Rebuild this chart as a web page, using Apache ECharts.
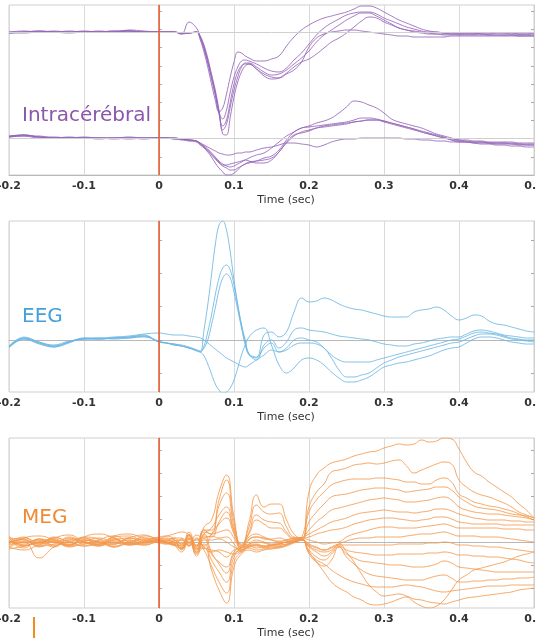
<!DOCTYPE html>
<html><head><meta charset="utf-8">
<script src="https://cdn.jsdelivr.net/npm/echarts@6/dist/echarts.min.js"></script>
<style>html,body{margin:0;padding:0;background:#fff}#c{width:536px;height:638px}</style>
</head><body><div id="c"></div>
<script>
// ---------- time axes (s) ----------
const timeFine = [-0.2,-0.18,-0.16,-0.14,-0.12,-0.1,-0.08,-0.06,-0.04,-0.02,
  0,0.01,0.02,0.03,0.04,0.05,
  0.055,0.06,0.065,0.07,0.075,0.08,0.085,0.09,0.095,0.1,0.105,0.11,0.115,0.12,
  0.13,0.14,0.15,0.16,0.17,0.18,0.19,0.2,
  0.21,0.22,0.23,0.24,0.25,0.26,0.27,0.28,0.29,0.3,
  0.31,0.32,0.33,0.34,0.35,0.36,0.37,0.38,0.39,0.4,
  0.41,0.42,0.43,0.44,0.45,0.46,0.47,0.48,0.49,0.5];
const timeMeg = [-0.2,-0.18,-0.16,-0.14,-0.12,-0.1,-0.08,-0.06,-0.04,-0.02,
  0,0.01,0.02,0.03,0.04,0.05,0.06,0.07,0.08,0.09,
  0.1,0.11,0.12,0.13,0.14,0.15,0.16,0.17,0.18,0.19,
  0.2,0.21,0.22,0.23,0.24,0.25,0.26,0.27,0.28,0.29,
  0.3,0.31,0.32,0.33,0.34,0.35,0.36,0.37,0.38,0.39,
  0.4,0.41,0.42,0.43,0.44,0.45,0.46,0.47,0.48,0.49,0.5];

// ---------- Intracérébral, upper contact (relative amplitude) ----------
const intraUpA = [-1,0,0,1,0,0,1,0,2,1, 0,0,0,-1,-1,0,
  -8,-20,-35,-52,-68,-80,-76,-62,-45,-30,-20,-21,-24,-26,
  -29,-29,-27,-24,-14,-5,2,7, 11,14,16,18,20,23,26,26,24,20,
  16,12,9,6,3,1,0,-1,-1,-1, -1,-1,-2,-2,-1,-1,-1,-2,-2,-1];
const intraUpB = [0,1,0,0,1,0,0,1,1,0, 0,0,0,-2,-1,0,
  -6,-17,-31,-47,-63,-80,-87,-78,-60,-45,-35,-29,-28,-29,
  -32,-36,-39,-40,-36,-28,-21,-12, -3,4,9,13,17,19,20,20,18,14,
  11,8,5,3,1,0,0,-1,-2,-2, -2,-2,-2,-3,-3,-3,-3,-4,-4,-4];
const intraUpC = [-1,0,1,0,0,1,0,0,1,0, 0,0,0,-2,10,4,
  -5,-15,-28,-44,-60,-80,-98,-92,-75,-58,-45,-35,-31,-31,
  -35,-40,-43,-42,-38,-32,-26,-19, -10,-3,2,7,12,16,19,19,16,12,
  8,4,2,1,0,-1,-2,-2,-2,-2, -2,-2,-1,-1,-1,-1,-2,-2,-2,-2];
const intraUpD = [-1,-1,0,0,0,0,0,1,1,0, 0,0,0,-1,-1,0,
  -4,-13,-26,-42,-58,-78,-102,-103,-85,-65,-50,-40,-34,-32,
  -37,-44,-47,-46,-41,-35,-30,-27, -22,-16,-10,-6,-1,5,11,15,14,10,
  7,4,2,0,-1,-2,-2,-3,-3,-3, -3,-3,-3,-3,-3,-3,-3,-3,-3,-3];
const intraUpE = [0,0,1,0,-1,0,0,0,1,0, 0,0,0,-1,-1,0,
  -5,-16,-30,-45,-62,-82,-94,-88,-70,-52,-40,-34,-32,-32,
  -37,-42,-45,-46,-42,-38,-30,-15, -6,-2,0,1,2,2,1,0,-1,-2,
  -3,-4,-4,-5,-5,-5,-5,-5,-4,-4, -4,-4,-4,-4,-4,-4,-4,-4,-4,-4];
// ---------- Intracérébral, lower contact ----------
const intraLowF = [1,3,1,0,0,0,-1,0,0,0, 0,0,-1,-1,-2,-3,
  -5,-7,-9,-11,-13,-15,-16,-17,-17,-16,-15,-15,-14,-14,
  -12,-10,-9,-7,-5,-5,-6,-7, -9,-7,-4,-2,-1,-1,0,0,0,0,
  0,0,-1,-1,-2,-2,-3,-3,-4,-4, -4,-4,-4,-5,-5,-5,-5,-6,-6,-6];
const intraLowG = [2,3,1,0,0,1,0,0,1,0, 0,0,0,-1,-2,-3,
  -5,-8,-11,-15,-19,-23,-26,-28,-29,-28,-26,-24,-22,-20,
  -17,-15,-10,-4,2,6,10,11, 12,13,14,15,16,18,20,20,19,17,
  15,13,11,9,7,5,3,1,-2,-4, -4,-5,-5,-5,-6,-6,-6,-7,-7,-7];
const intraLowH = [1,2,0,0,1,0,0,0,0,-1, 0,0,-1,-2,-3,-4,
  -7,-10,-14,-19,-25,-30,-34,-37,-37,-35,-32,-28,-26,-25,
  -23,-20,-18,-12,-2,6,10,12, 15,17,20,25,31,37,36,33,30,25,
  19,16,14,12,10,7,4,2,0,-2, -3,-4,-4,-5,-5,-5,-6,-6,-7,-7];
const intraLowI = [2,3,1,1,0,0,0,-1,0,0, 0,0,0,-1,-2,-3,
  -6,-9,-12,-16,-20,-24,-27,-27,-26,-25,-24,-23,-22,-23,
  -25,-25,-22,-14,-5,2,6,8, 10,11,12,13,14,16,17,18,18,17,
  15,13,11,9,6,4,2,0,-1,-2, -2,-3,-3,-4,-4,-4,-4,-5,-5,-5];
const intraLowJ = [1,2,2,0,0,0,0,0,-1,0, 0,0,0,-1,-2,-3,
  -6,-9,-13,-17,-21,-25,-28,-30,-32,-32,-30,-28,-26,-24,
  -23,-22,-20,-14,-4,3,5,7, 10,12,13,14,15,16,17,18,18,16,
  14,12,10,8,6,4,2,0,-2,-3, -4,-5,-6,-6,-7,-7,-8,-8,-9,-9];

// ---------- EEG ----------
const eegP = [-7,2,-3,-6,-2,2,1,2,3,5, -2,-3,-4,-5,-7,-10,
  -12,10,35,65,95,115,119,110,88,60,35,15,0,-14,
  -17,5,8,3,8,28,42,38, 39,42,40,36,33,31,30,28,26,24,
  23,23,23,28,30,31,33,30,24,20, 22,25,24,19,16,15,13,11,9,8];
const eegR = [-6,3,-2,-5,-1,1,2,1,2,3, -1,-3,-4,-6,-8,-11,
  -12,-6,8,25,45,62,72,75,70,55,35,15,-2,-14,
  -20,-5,0,-8,-2,10,12,10, 9,8,6,4,3,2,1,0,-2,-4,
  -5,-6,-6,-4,-3,-1,1,2,3,3, 6,9,10,9,7,5,4,3,2,2];
const eegR2 = [-8,1,-4,-7,-2,1,1,2,2,4, -2,-3,-5,-6,-8,-10,
  -11,-8,0,15,32,50,62,66,62,48,30,12,-5,-15,
  -18,-8,-3,-12,-8,0,2,0, -2,-8,-15,-20,-22,-22,-22,-22,-20,-18,
  -16,-14,-12,-10,-8,-6,-4,-2,0,1, 4,7,8,7,6,4,2,1,0,0];
const eegU = [-7,1,-3,-7,-3,2,2,3,4,6, 7,6,5,5,4,3,
  2,0,-3,-6,-9,-12,-15,-18,-20,-22,-24,-26,-27,-25,
  -20,-15,-10,-12,-10,-5,-3,-3, -4,-8,-18,-30,-37,-37,-35,-33,-28,-23,
  -20,-17,-15,-13,-11,-9,-7,-5,-3,-2, 1,4,6,6,5,3,1,0,-1,-2];
const eegS = [-6,2,-2,-6,-2,1,1,2,3,4, -2,-3,-5,-6,-8,-10,
  -12,-16,-24,-34,-44,-50,-53,-52,-48,-40,-28,-15,-5,3,
  10,12,-5,-25,-33,-28,-20,-18, -20,-25,-32,-38,-42,-42,-40,-37,-32,-27,
  -25,-23,-22,-20,-18,-16,-13,-10,-8,-7, -3,1,3,3,2,0,-2,-3,-4,-4];

// ---------- MEG ----------
const meg01 = [4,2,-2,5,1,4,-3,6,8,4, 3,4,2,-2,6,-3,6,5,20,30, 10,-4,20,47,35,38,38,22,8,3,
  50,67,74,79,81,83,86,88,90,91, 94,96,98,97,98,102,100,101,104,103, 93,80,70,66,60,55,50,45,38,32,24];
const meg02 = [-5,4,6,2,-3,5,8,4,-2,6, 4,6,8,10,7,-5,15,22,50,67, 25,-5,5,8,5,3,4,2,0,4,
  35,50,58,70,72,74,77,78,79,78, 79,81,82,76,69,72,75,78,80,78, 62,55,50,47,45,42,39,35,30,27,24];
const meg03 = [6,-3,-1,4,7,0,-4,5,6,2, 5,6,3,-5,10,-4,12,12,42,62, 20,-3,15,37,30,28,29,15,5,4,
  30,42,50,57,60,62,63,63,63,64, 64,63,62,60,60,58,58,62,64,60, 48,44,40,38,36,35,33,31,28,25,22];
const meg04 = [0,5,-4,2,-3,5,3,-2,4,7, 3,3,-2,-7,8,-10,10,8,36,49, 15,-6,10,27,22,20,19,10,4,4,
  20,30,38,45,47,48,50,52,53,54, 54,53,52,50,51,52,53,55,55,52, 45,40,36,34,33,32,30,28,27,26,24];
const meg05 = [2,-6,3,0,-4,2,0,4,-2,1, 2,1,4,-2,4,-4,12,8,10,12, 4,-8,2,5,3,2,0,2,4,4,
  12,20,26,32,34,36,38,40,42,43, 44,43,42,40,40,41,42,44,45,42, 35,32,30,29,28,28,27,26,25,24,22];
const meg06 = [-6,0,-2,4,0,-4,2,6,0,-2, 2,2,-1,-6,7,-7,8,14,27,35, 12,-2,8,22,18,14,14,8,3,4,
  8,12,16,20,22,24,27,29,30,31, 32,31,30,30,29,30,31,33,33,31, 28,26,24,23,22,22,22,21,21,20,20];
const meg07 = [4,0,2,-4,5,0,-2,2,4,0, 1,2,4,4,-1,2,-4,8,18,24, 8,-6,3,5,4,2,1,2,3,4,
  5,8,10,12,13,15,18,20,22,23, 24,24,23,22,21,22,23,25,25,23, 20,19,18,18,18,18,17,17,17,17,17];
const meg08 = [-2,4,0,2,-5,0,4,0,2,-3, 0,0,2,-7,-1,-11,2,2,3,0, -5,-8,-2,2,0,-2,-1,0,2,4,
  2,0,-2,-1,0,5,8,10,12,14, 15,15,14,14,14,15,16,17,18,16, 14,14,14,14,14,14,13,13,13,12,12];
const meg09 = [4,-4,2,0,4,-2,0,-4,0,4, 2,-1,0,-4,1,-12,-6,-8,-10,-15, -8,-6,-3,-2,-4,-3,-2,0,2,3,
  -2,-5,-8,-6,-2,1,3,4,4,5, 5,5,5,6,7,8,8,9,10,8, 6,6,6,5,5,5,4,3,2,1,0];
const meg10 = [-7,-4,0,3,-2,0,-4,2,-2,0, 1,0,-3,-10,3,-14,4,-12,-20,-25, -10,-4,-2,0,-1,-3,-2,0,1,3,
  -4,-8,-10,-8,-3,-3,-3,-3,-3,-3, -3,-3,-2,-2,-2,-2,-1,-1,0,-1, -3,-3,-4,-4,-5,-5,-6,-7,-8,-9,-10];
const meg11 = [0,2,-4,-2,2,4,0,-2,4,2, 2,-1,-3,3,-4,7,4,6,4,5, -2,-10,-4,-3,-5,-4,-5,-3,0,2,
  -5,-10,-14,-10,-4,-8,-10,-11,-12,-13, -13,-13,-12,-12,-12,-12,-11,-11,-10,-11, -13,-13,-14,-14,-15,-15,-16,-17,-18,-20,-21];
const meg12 = [-5,-8,-3,0,-4,-2,2,-5,-2,-3, 0,-2,0,-8,7,-10,-2,-18,-30,-40, -15,-6,-4,-6,-5,-6,-4,-2,0,2,
  -8,-15,-18,-12,-5,-12,-16,-19,-20,-21, -22,-23,-23,-24,-25,-25,-24,-22,-19,-21, -25,-26,-27,-28,-29,-30,-30,-30,-30,-30,-30];
const meg13 = [-3,0,-16,-5,0,-4,-2,0,-3,-1, 1,0,-3,-6,3,-8,8,-10,-22,-31, -12,-8,-5,-4,-6,-4,-3,-2,0,3,
  -12,-20,-24,-18,-5,-15,-22,-28,-32,-34, -35,-36,-37,-38,-38,-38,-36,-34,-33,-36, -40,-40,-39,-39,-38,-38,-37,-37,-36,-36,-35];
const meg14 = [2,-4,0,-5,3,0,-3,-2,0,2, -1,-2,1,2,-4,3,-8,-24,-40,-51, -20,-10,-6,-8,-7,-6,-5,-3,0,3,
  -10,-18,-22,-28,-33,-37,-40,-42,-44,-45, -45,-45,-44,-43,-44,-45,-47,-49,-50,-49, -48,-47,-46,-45,-44,-44,-44,-43,-43,-43,-43];
const meg15 = [-2,3,-5,0,-3,2,0,-5,2,-1, 1,-1,-3,-3,4,-6,-6,-28,-48,-61, -25,-12,-8,-10,-8,-7,-6,-4,-1,2,
  -3,-6,-8,-5,-2,-10,-20,-32,-43,-50, -54,-53,-52,-54,-57,-58,-60,-61,-62,-60, -58,-56,-55,-54,-53,-52,-51,-50,-48,-47,-46];
const meg16 = [0,-2,3,-3,0,2,-2,3,-3,0, 2,0,-2,2,-3,4,-5,-10,-8,-10, -12,-9,-5,-3,-4,-3,-2,0,1,2,
  -10,-20,-30,-40,-46,-50,-55,-58,-62,-63, -62,-60,-57,-55,-60,-64,-66,-64,-58,-48, -38,-33,-28,-26,-24,-22,-20,-17,-14,-12,-10];

// ---------- channel offsets and axis ranges (value units) ----------
const INTRA_UP_BASE = 143, INTRA_LOW_BASE = 37;
const ranges = [{min:0,max:170,ticks:[18.2,36.4,54.6,72.8,91,109.2,127.4,145.6,163.8]},
                {min:-52,max:119,ticks:[-33.3,0,33.3,66.7,100]},
                {min:-66,max:104,ticks:[-46,-23,0,23,46,69,92]}];

const C_INTRA = '#9565b8', C_EEG = '#6cb6e4', C_MEG = '#f5994c', C_STIM = '#ee5a2c';

const chart = echarts.init(document.getElementById('c'), null, {renderer:'canvas'});
const grids = [{left:9,right:2,top:5,height:170},{left:9,right:2,top:221,height:171},{left:9,right:2,top:438,height:170}]
  .map(g => Object.assign({show:true, borderColor:'#cfcfcf', borderWidth:1, backgroundColor:'transparent',
    containLabel:false, outerBoundsMode:'none'}, g));

const xAxes = [0,1,2].map(i => ({
  type:'value', gridIndex:i, min:-0.2, max:0.5, interval:0.1,
  name:'Time (sec)', nameLocation:'middle', nameGap:20,
  nameTextStyle:{fontFamily:'DejaVu Sans', fontSize:11, color:'#333', padding:[0,0,0,29]},
  axisLine:{show:true, lineStyle:{color:'#b8b8b8'}},
  axisTick:{show:false},
  axisLabel:{margin:6, fontFamily:'DejaVu Sans', fontSize:11, fontWeight:'bold', color:'#333', hideOverlap:false,
    formatter: v => { const r = Math.round(v*10)/10; return r === 0 ? '0' : String(r); }},
  splitLine:{show:true, lineStyle:{color:'#dadada', width:1}}
}));
const yAxes = [];
['left','right'].forEach(pos => [0,1,2].forEach(i => yAxes.push({
  type:'value', gridIndex:i, position:pos, min:ranges[i].min, max:ranges[i].max,
  axisLine:{show:true, lineStyle:{color: pos==='left' ? '#b0b0b0' : '#cfcfcf'}},
  axisTick:{show:true, inside:true, length:3, lineStyle:{color:'#aaa'}, customValues:ranges[i].ticks},
  axisLabel:{show:false}, splitLine:{show:false}
})));

function trace(times, vals, base, gi, color, sm) {
  return {type:'line', xAxisIndex:gi, yAxisIndex:gi, data: times.map((t,k)=>[t, base + vals[k]]),
    symbol:'none', showSymbol:false, smooth:sm, silent:true, animation:false,
    lineStyle:{width:1, color:color, opacity:0.85}};
}
const series = [];
[intraUpA,intraUpB,intraUpC,intraUpD,intraUpE].forEach(v => series.push(trace(timeFine, v, INTRA_UP_BASE, 0, C_INTRA, 0.4)));
[intraLowF,intraLowG,intraLowH,intraLowI,intraLowJ].forEach(v => series.push(trace(timeFine, v, INTRA_LOW_BASE, 0, C_INTRA, 0.4)));
[eegP,eegR,eegR2,eegU,eegS].forEach(v => series.push(trace(timeFine, v, 0, 1, C_EEG, 0.4)));
[meg01,meg02,meg03,meg04,meg05,meg06,meg07,meg08,meg09,meg10,meg11,meg12,meg13,meg14,meg15,meg16]
  .forEach(v => series.push(trace(timeMeg, v, 0, 2, C_MEG, 0.5)));

const mlBase = {silent:true, symbol:['none','none'], label:{show:false}, animation:false};
series[0].markLine = Object.assign({}, mlBase, {data:[
  {yAxis:INTRA_UP_BASE, lineStyle:{color:'#d0d0d0', width:1, type:'solid'}},
  {yAxis:INTRA_LOW_BASE, lineStyle:{color:'#d0d0d0', width:1, type:'solid'}},
  {xAxis:0, lineStyle:{color:C_STIM, width:1.5, type:'solid'}}]});
series[10].markLine = Object.assign({}, mlBase, {data:[{xAxis:0, lineStyle:{color:C_STIM, width:1.5, type:'solid'}}]});
series[15].markLine = Object.assign({}, mlBase, {data:[{xAxis:0, lineStyle:{color:C_STIM, width:1.5, type:'solid'}}]});

const labelStyle = (c) => ({fontFamily:'DejaVu Sans', fontSize:20, fontWeight:'normal', color:c, lineHeight:20});
chart.setOption({
  animation:false,
  backgroundColor:'#ffffff',
  title:[
    {text:'Intracérébral', left:22, top:106, padding:0, textStyle:labelStyle('#8b56ad')},
    {text:'EEG', left:22, top:307, padding:0, textStyle:labelStyle('#45a0da')},
    {text:'MEG', left:22, top:508, padding:0, textStyle:labelStyle('#f08a36')}
  ],
  grid:grids, xAxis:xAxes, yAxis:yAxes, series:series,
  graphic:[{type:'rect', shape:{x:33, y:617, width:2, height:21}, style:{fill:'#f28a1e'}, silent:true}]
});
</script></body></html>
